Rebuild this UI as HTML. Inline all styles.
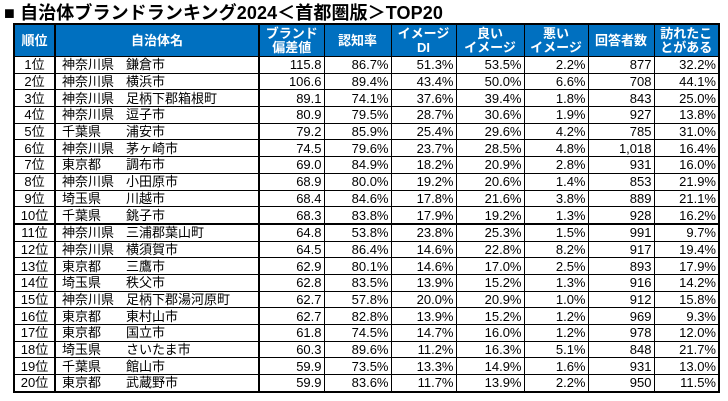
<!DOCTYPE html>
<html><head><meta charset="utf-8"><style>
body{margin:0;width:728px;height:401px;background:#fff;position:relative;overflow:hidden;font-family:"Liberation Sans","Noto Sans CJK JP",sans-serif;}
.title{position:absolute;left:4px;top:-1px;font-size:18px;font-weight:bold;white-space:nowrap;letter-spacing:0.1px;color:#000;}
table{position:absolute;left:13px;top:23px;border-collapse:collapse;table-layout:fixed;border:2px solid #000;}
th{background:#0070C0;color:#fff;font-size:13px;font-weight:bold;line-height:14px;height:31px;border:1px solid #000;padding:0;}
td{height:15.7px;padding:0 2px 0 0;font-size:13px;line-height:15px;border:1px solid #000;text-align:right;color:#000;white-space:nowrap;overflow:hidden;}
td.r{text-align:center;border-right:2px solid #000;padding:0}
td.n{text-align:left;padding-left:6px;border-right:2px solid #000}
td.n span{display:inline-block;width:64px}
td.d{border-right:1px dotted #000}
tr.t td{border-bottom:2px solid #000}
</style></head><body>
<div class="title">■ 自治体ブランドランキング2024＜首都圏版＞TOP20</div>
<table>
<colgroup><col style="width:41px"><col style="width:204px"><col style="width:65px"><col style="width:67px"><col style="width:65px"><col style="width:68px"><col style="width:64px"><col style="width:66px"><col style="width:65px"></colgroup>
<tr><th style="border-right:2px solid #000">順位</th><th style="border-right:2px solid #000">自治体名</th><th>ブランド<br>偏差値</th><th>認知率</th><th>イメージ<br>DI</th><th>良い<br>イメージ</th><th>悪い<br>イメージ</th><th>回答者数</th><th>訪れたこ<br>とがある</th></tr>
<tr><td class="r">1位</td><td class="n"><span>神奈川県</span>鎌倉市</td><td>115.8</td><td>86.7%</td><td>51.3%</td><td class="d">53.5%</td><td>2.2%</td><td>877</td><td>32.2%</td></tr>
<tr><td class="r">2位</td><td class="n"><span>神奈川県</span>横浜市</td><td>106.6</td><td>89.4%</td><td>43.4%</td><td class="d">50.0%</td><td>6.6%</td><td>708</td><td>44.1%</td></tr>
<tr><td class="r">3位</td><td class="n"><span>神奈川県</span>足柄下郡箱根町</td><td>89.1</td><td>74.1%</td><td>37.6%</td><td class="d">39.4%</td><td>1.8%</td><td>843</td><td>25.0%</td></tr>
<tr><td class="r">4位</td><td class="n"><span>神奈川県</span>逗子市</td><td>80.9</td><td>79.5%</td><td>28.7%</td><td class="d">30.6%</td><td>1.9%</td><td>927</td><td>13.8%</td></tr>
<tr><td class="r">5位</td><td class="n"><span>千葉県</span>浦安市</td><td>79.2</td><td>85.9%</td><td>25.4%</td><td class="d">29.6%</td><td>4.2%</td><td>785</td><td>31.0%</td></tr>
<tr><td class="r">6位</td><td class="n"><span>神奈川県</span>茅ヶ崎市</td><td>74.5</td><td>79.6%</td><td>23.7%</td><td class="d">28.5%</td><td>4.8%</td><td>1,018</td><td>16.4%</td></tr>
<tr><td class="r">7位</td><td class="n"><span>東京都</span>調布市</td><td>69.0</td><td>84.9%</td><td>18.2%</td><td class="d">20.9%</td><td>2.8%</td><td>931</td><td>16.0%</td></tr>
<tr><td class="r">8位</td><td class="n"><span>神奈川県</span>小田原市</td><td>68.9</td><td>80.0%</td><td>19.2%</td><td class="d">20.6%</td><td>1.4%</td><td>853</td><td>21.9%</td></tr>
<tr><td class="r">9位</td><td class="n"><span>埼玉県</span>川越市</td><td>68.4</td><td>84.6%</td><td>17.8%</td><td class="d">21.6%</td><td>3.8%</td><td>889</td><td>21.1%</td></tr>
<tr class="t"><td class="r">10位</td><td class="n"><span>千葉県</span>銚子市</td><td>68.3</td><td>83.8%</td><td>17.9%</td><td class="d">19.2%</td><td>1.3%</td><td>928</td><td>16.2%</td></tr>
<tr><td class="r">11位</td><td class="n"><span>神奈川県</span>三浦郡葉山町</td><td>64.8</td><td>53.8%</td><td>23.8%</td><td class="d">25.3%</td><td>1.5%</td><td>991</td><td>9.7%</td></tr>
<tr><td class="r">12位</td><td class="n"><span>神奈川県</span>横須賀市</td><td>64.5</td><td>86.4%</td><td>14.6%</td><td class="d">22.8%</td><td>8.2%</td><td>917</td><td>19.4%</td></tr>
<tr><td class="r">13位</td><td class="n"><span>東京都</span>三鷹市</td><td>62.9</td><td>80.1%</td><td>14.6%</td><td class="d">17.0%</td><td>2.5%</td><td>893</td><td>17.9%</td></tr>
<tr><td class="r">14位</td><td class="n"><span>埼玉県</span>秩父市</td><td>62.8</td><td>83.5%</td><td>13.9%</td><td class="d">15.2%</td><td>1.3%</td><td>916</td><td>14.2%</td></tr>
<tr><td class="r">15位</td><td class="n"><span>神奈川県</span>足柄下郡湯河原町</td><td>62.7</td><td>57.8%</td><td>20.0%</td><td class="d">20.9%</td><td>1.0%</td><td>912</td><td>15.8%</td></tr>
<tr><td class="r">16位</td><td class="n"><span>東京都</span>東村山市</td><td>62.7</td><td>82.8%</td><td>13.9%</td><td class="d">15.2%</td><td>1.2%</td><td>969</td><td>9.3%</td></tr>
<tr><td class="r">17位</td><td class="n"><span>東京都</span>国立市</td><td>61.8</td><td>74.5%</td><td>14.7%</td><td class="d">16.0%</td><td>1.2%</td><td>978</td><td>12.0%</td></tr>
<tr><td class="r">18位</td><td class="n"><span>埼玉県</span>さいたま市</td><td>60.3</td><td>89.6%</td><td>11.2%</td><td class="d">16.3%</td><td>5.1%</td><td>848</td><td>21.7%</td></tr>
<tr><td class="r">19位</td><td class="n"><span>千葉県</span>館山市</td><td>59.9</td><td>73.5%</td><td>13.3%</td><td class="d">14.9%</td><td>1.6%</td><td>931</td><td>13.0%</td></tr>
<tr><td class="r">20位</td><td class="n"><span>東京都</span>武蔵野市</td><td>59.9</td><td>83.6%</td><td>11.7%</td><td class="d">13.9%</td><td>2.2%</td><td>950</td><td>11.5%</td></tr>
</table>
</body></html>
